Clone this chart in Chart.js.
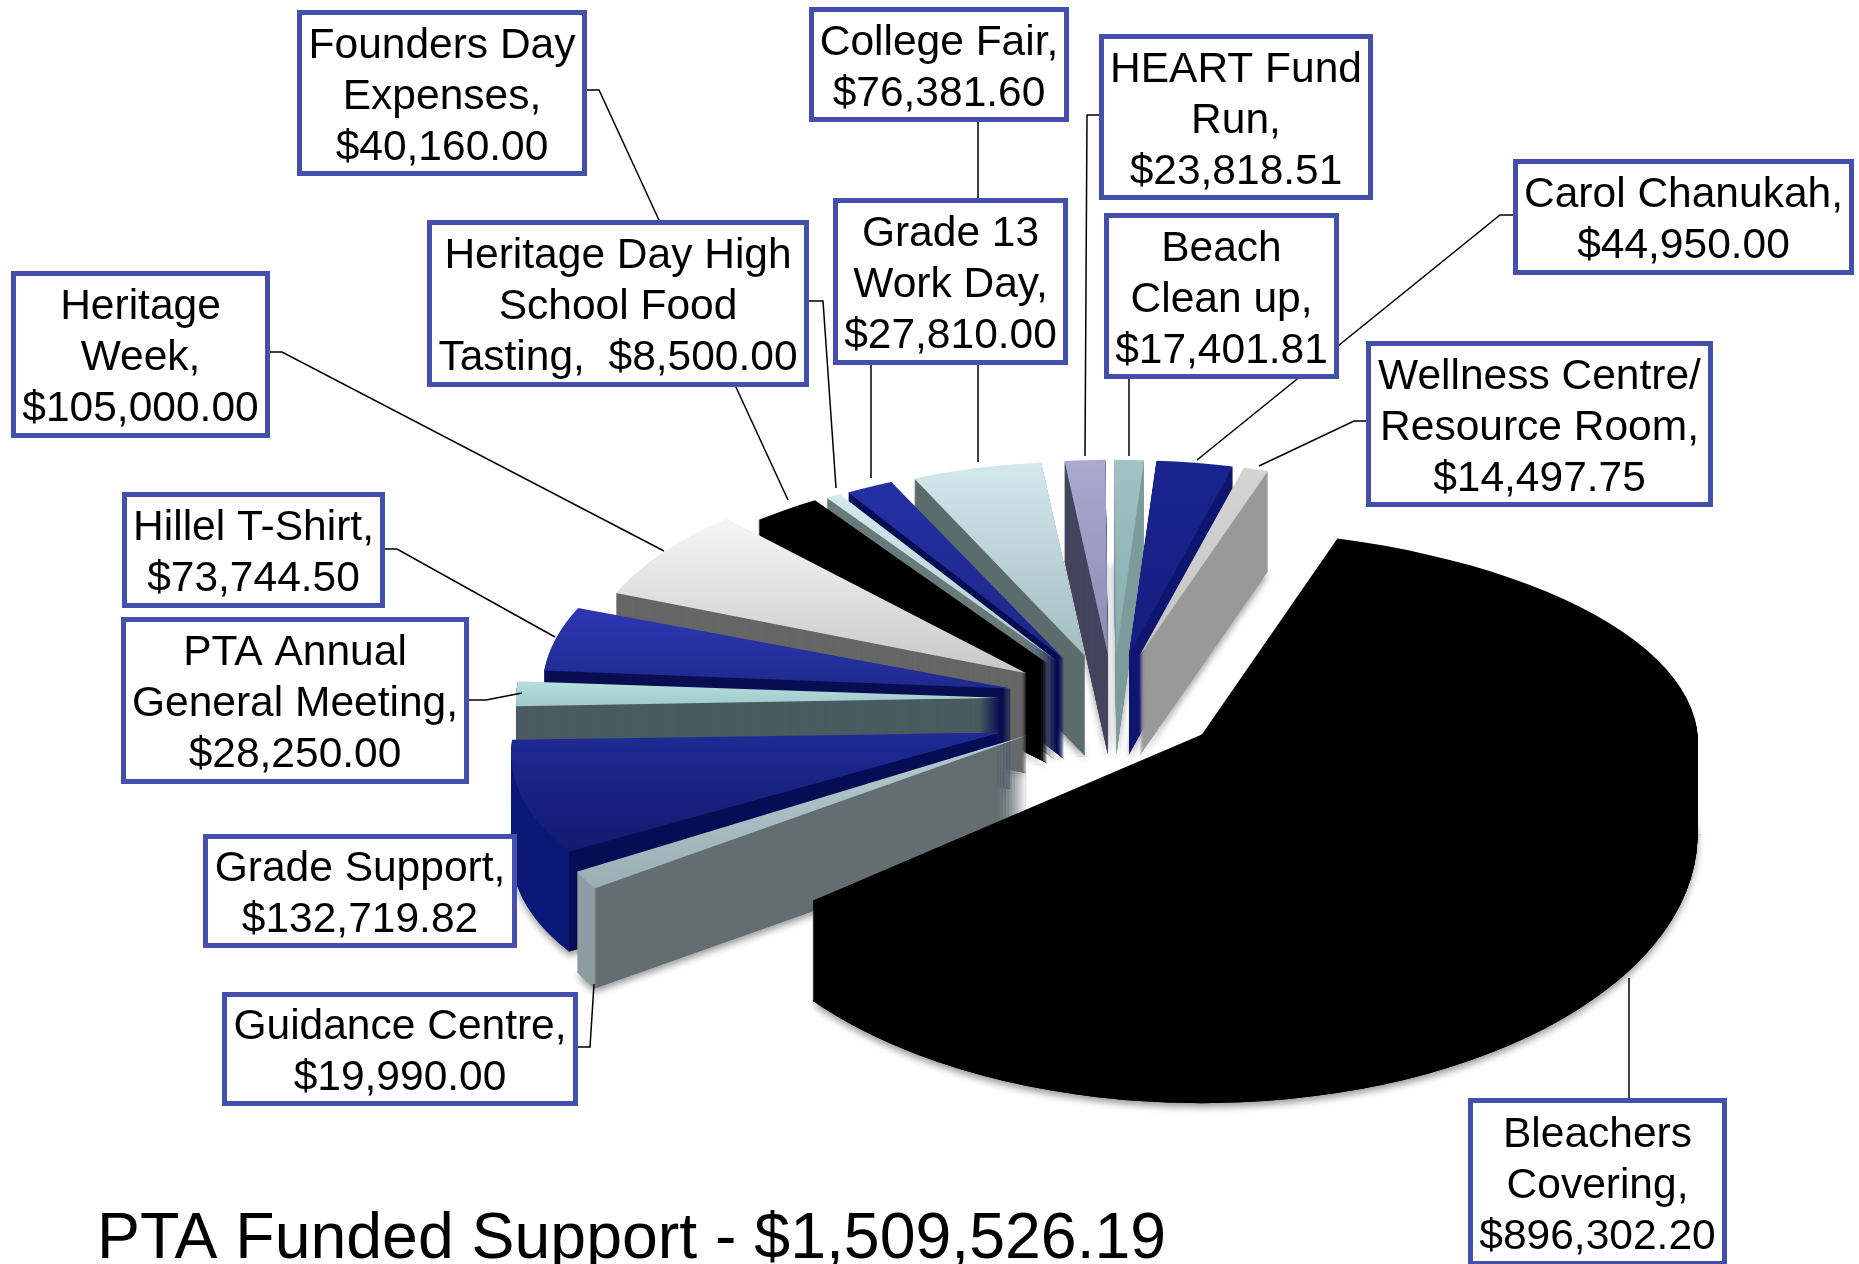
<!DOCTYPE html>
<html>
<head>
<meta charset="utf-8">
<script src="https://cdn.jsdelivr.net/npm/chart.js@4"></script>
<style>
  html, body { margin: 0; padding: 0; background: #fff; overflow: hidden; }
  #wrap { position: relative; width: 1859px; height: 1264px; }
</style>
</head>
<body>
<div id="wrap"><canvas id="pie"></canvas></div>
<script>
const titleText = "PTA Funded Support - $1,509,526.19";

const categories = ["Bleachers Covering", "Guidance Centre", "Grade Support", "PTA Annual General Meeting",
  "Hillel T-Shirt", "Heritage Week", "Founders Day Expenses", "Heritage Day High School Food Tasting",
  "Grade 13 Work Day", "College Fair", "HEART Fund Run", "Beach Clean up", "Carol Chanukah",
  "Wellness Centre/ Resource Room"];
const amounts = [896302.20, 19990.00, 132719.82, 28250.00, 73744.50, 105000.00, 40160.00, 8500.00,
  27810.00, 76381.60, 23818.51, 17401.81, 44950.00, 14497.75];

// how each category name wraps in its box; a trailing space keeps the amount on that line
const nameLines = [["Bleachers", "Covering,"], ["Guidance Centre,"], ["Grade Support,"],
  ["PTA Annual", "General Meeting,"], ["Hillel T-Shirt,"], ["Heritage", "Week,"],
  ["Founders Day", "Expenses,"], ["Heritage Day High", "School Food", "Tasting,  "],
  ["Grade 13", "Work Day,"], ["College Fair,"], ["HEART Fund", "Run,"], ["Beach", "Clean up,"],
  ["Carol Chanukah,"], ["Wellness Centre/", "Resource Room,"]];

// top face: colour at far edge, colour at near edge; then the wall colours
const faceFar = ["#000000", "#b4ccd0", "#1f2a94", "#b8e0e0", "#2e36b2", "#f6f6f6", "#000000", "#d4e8ec",
  "#2530a6", "#d4e8ec", "#aaaacf", "#a0c4c6", "#1a2490", "#d4d4d4"];
const faceNear = ["#000000", "#9ab0b4", "#121a70", "#a0cacc", "#1e2a8e", "#c8c8c8", "#000000", "#b4ccd0",
  "#1c2686", "#a2bdc0", "#8c8cb4", "#86aaaa", "#141e80", "#c4c4c4"];
const wallColor = ["#000000", "#646e72", "#070d55", "#4a5c60", "#0a0f52", "#666666", "#000000", "#6a7a7a",
  "#060c50", "#5c6c6c", "#45455f", "#7f9c9c", "#0e1670", "#999999"];
const rimColor = [null, "#8c9ca0", "#0c1878", null, null, null, null, null, null, null, null, null, null, null];

// back to front
const drawOrder = [10, 11, 9, 12, 13, 8, 7, 6, 5, 4, 3, 2, 1, 0];

// the source is a real 3D render, these bend each slice a little towards it
const shearBack = [0.09, 0, 0, 0, 0, 0, 0, 0, 0, 0, 0, 0, 0, 0];
const shearFront = [0, -0.33, -0.21, 0, 0, 0, 0, 0, 0, 0, 0, 0, 0, 0];
const tiltBack = [1.06, 1, 1, 1, 1.08, 1.08, 1, 1, 1, 1, 1, 1, 1, 1];
const tiltFront = [1, 0.92, 0.8, 1, 1, 1, 1, 1, 1, 1, 1, 1, 1, 1];
const nudgeX = [2, 10, -2, 4, 12, 10, 8, 8, 8, 6, 6, 5, 3, 0];
const nudgeY = [0, 0, 15, 0, 0, 0, 0, 0, 0, 0, 0, 0, 0, 0];

// label boxes: left, top, right, bottom
const boxes = [[1470, 1100, 1725, 1264], [224, 994, 576, 1104], [205, 836, 515, 946], [123, 619, 467, 782],
  [124, 494, 383, 606], [13, 273, 268, 436], [299, 12, 585, 174], [429, 222, 807, 385],
  [835, 200, 1066, 363], [811, 9, 1067, 120], [1101, 36, 1371, 198], [1106, 215, 1337, 377],
  [1515, 161, 1852, 273], [1368, 343, 1711, 505]];
const leaders = [
  [[1629, 1100], [1629, 978]],
  [[576, 1047], [590, 1047], [594, 984]],
  null,
  [[467, 700], [486, 700], [522, 693]],
  [[383, 549], [397, 549], [555, 637]],
  [[268, 352], [282, 352], [664, 551]],
  [[585, 90], [599, 90], [788, 500]],
  [[807, 301], [823, 301], [836, 488]],
  [[871, 363], [871, 478]],
  [[978, 120], [978, 462]],
  [[1101, 115], [1087, 115], [1085, 456]],
  [[1129, 377], [1129, 456]],
  [[1515, 215], [1500, 215], [1197, 460]],
  [[1368, 421], [1354, 421], [1259, 466]],
];

const EXPLODE = 112;    // slices pulled away from the middle
const DEPTH = 100;      // wall height
const TILT_BACK = 0.40; // far half of the pie is squashed more than the near half
const TILT_FRONT = 0.553;

const fmtMoney = (v) => "$" + v.toLocaleString("en-US", { minimumFractionDigits: 2, maximumFractionDigits: 2 });

function paintArc(ctx, arc, i, fill, dy, ax, ay, sx) {
  const seam = Math.round(ay + dy);
  const opts = arc.options;
  arc.options = Object.create(opts, { backgroundColor: { value: fill }, borderWidth: { value: 0 } });
  [[TILT_BACK * tiltBack[i], shearBack[i], -2000, seam + 1], [TILT_FRONT * tiltFront[i], shearFront[i], seam, 4000]].forEach(([tilt, shear, y0, y1]) => {
    ctx.save();
    ctx.beginPath();
    ctx.rect(0, y0, 1859, y1 - y0);
    ctx.clip();
    ctx.translate(ax, ay + dy);
    ctx.transform(1, 0, shear, 1, 0, 0);
    ctx.scale(sx, tilt);
    ctx.translate(-arc.x, -arc.y);
    arc.draw(ctx);
    ctx.restore();
  });
  arc.options = opts;
}

// where a slice ends up once pulled out and tilted
function slicePlace(arc, i) {
  const mid = (arc.startAngle + arc.endAngle) / 2;
  const oy = Math.sin(mid) * EXPLODE;
  return {
    ax: arc.x + Math.cos(mid) * EXPLODE + nudgeX[i],
    ay: arc.y + oy * (oy < 0 ? TILT_BACK : TILT_FRONT) + nudgeY[i],
    // far slices come out narrower
    sx: i === 0 ? 1.02 : 1 + 0.15 * Math.min(0, Math.sin(mid)),
  };
}

const pie3d = {
  id: "pie3d",
  beforeDatasetDraw(chart) {
    const ctx = chart.ctx;
    const arcs = chart.getDatasetMeta(0).data;

    // shadows go down first so none of them falls on a neighbouring slice
    ctx.save();
    ctx.shadowColor = "rgba(0,0,0,0.4)";
    ctx.shadowBlur = 7;
    ctx.shadowOffsetY = 4;
    for (const i of drawOrder) {
      const { ax, ay, sx } = slicePlace(arcs[i], i);
      paintArc(ctx, arcs[i], i, wallColor[i], DEPTH, ax, ay, sx);
    }
    ctx.restore();

    for (const i of drawOrder) {
      const arc = arcs[i];
      const r = arc.outerRadius;
      const { ax, ay, sx } = slicePlace(arc, i);

      let wall = wallColor[i];
      if (rimColor[i]) {
        // the curved outer wall is a different shade from the cut face
        const cx = arc.x + Math.cos(arc.startAngle) * r;
        wall = ctx.createLinearGradient(cx - 1, 0, cx + 1, 0);
        wall.addColorStop(0, rimColor[i]);
        wall.addColorStop(1, wallColor[i]);
      }
      // stacked copies make the wall
      for (let d = DEPTH; d > 0; d--) paintArc(ctx, arc, i, wall, d, ax, ay, sx);

      const ys = [0, Math.sin(arc.startAngle) * r, Math.sin(arc.endAngle) * r];
      const grad = ctx.createLinearGradient(0, arc.y + Math.min(...ys), 0, arc.y + Math.max(...ys));
      grad.addColorStop(0, faceFar[i]);
      grad.addColorStop(1, faceNear[i]);
      paintArc(ctx, arc, i, grad, 0, ax, ay, sx);
    }
    return false;
  },
  afterDraw(chart) {
    const ctx = chart.ctx;
    ctx.save();
    // leader lines first, boxes sit on top of them
    ctx.strokeStyle = "#000";
    ctx.lineWidth = 1.5;
    for (const pts of leaders) {
      if (!pts) continue;
      ctx.beginPath();
      pts.forEach(([x, y], k) => (k ? ctx.lineTo(x, y) : ctx.moveTo(x, y)));
      ctx.stroke();
    }
    ctx.textAlign = "center";
    ctx.textBaseline = "middle";
    ctx.font = '42.5px "Liberation Sans"';
    boxes.forEach(([l, t, r, b], i) => {
      ctx.fillStyle = "#fff";
      ctx.fillRect(l - 2, t - 2, r - l + 4, b - t + 4);
      ctx.strokeStyle = "#4450ab";
      ctx.lineWidth = 5;
      ctx.strokeRect(l + 0.5, t + 0.5, r - l - 1, b - t - 1);
      const lines = nameLines[i].slice();
      const money = fmtMoney(amounts[i]);
      if (lines[lines.length - 1].endsWith(" ")) lines[lines.length - 1] += money;
      else lines.push(money);
      ctx.fillStyle = "#000";
      const top = (t + b) / 2 - (lines.length - 1) * 25.5 + 4;
      lines.forEach((s, k) => ctx.fillText(s, (l + r) / 2, top + k * 51));
    });
    ctx.textAlign = "left";
    ctx.textBaseline = "alphabetic";
    ctx.font = '64.4px "Liberation Sans"';
    ctx.fillText(titleText, 97, 1258);
    ctx.restore();
  },
};

new Chart(document.getElementById("pie").getContext("2d"), {
  type: "pie",
  data: {
    labels: categories,
    datasets: [{ data: amounts, backgroundColor: faceFar, borderWidth: 0 }],
  },
  options: {
    responsive: true,
    maintainAspectRatio: false,
    animation: false,
    rotation: 18,
    radius: 486,
    layout: { padding: { left: 357, top: 134 } },
    plugins: { legend: { display: false }, tooltip: { enabled: false } },
  },
  plugins: [pie3d],
});
</script>
</body>
</html>
